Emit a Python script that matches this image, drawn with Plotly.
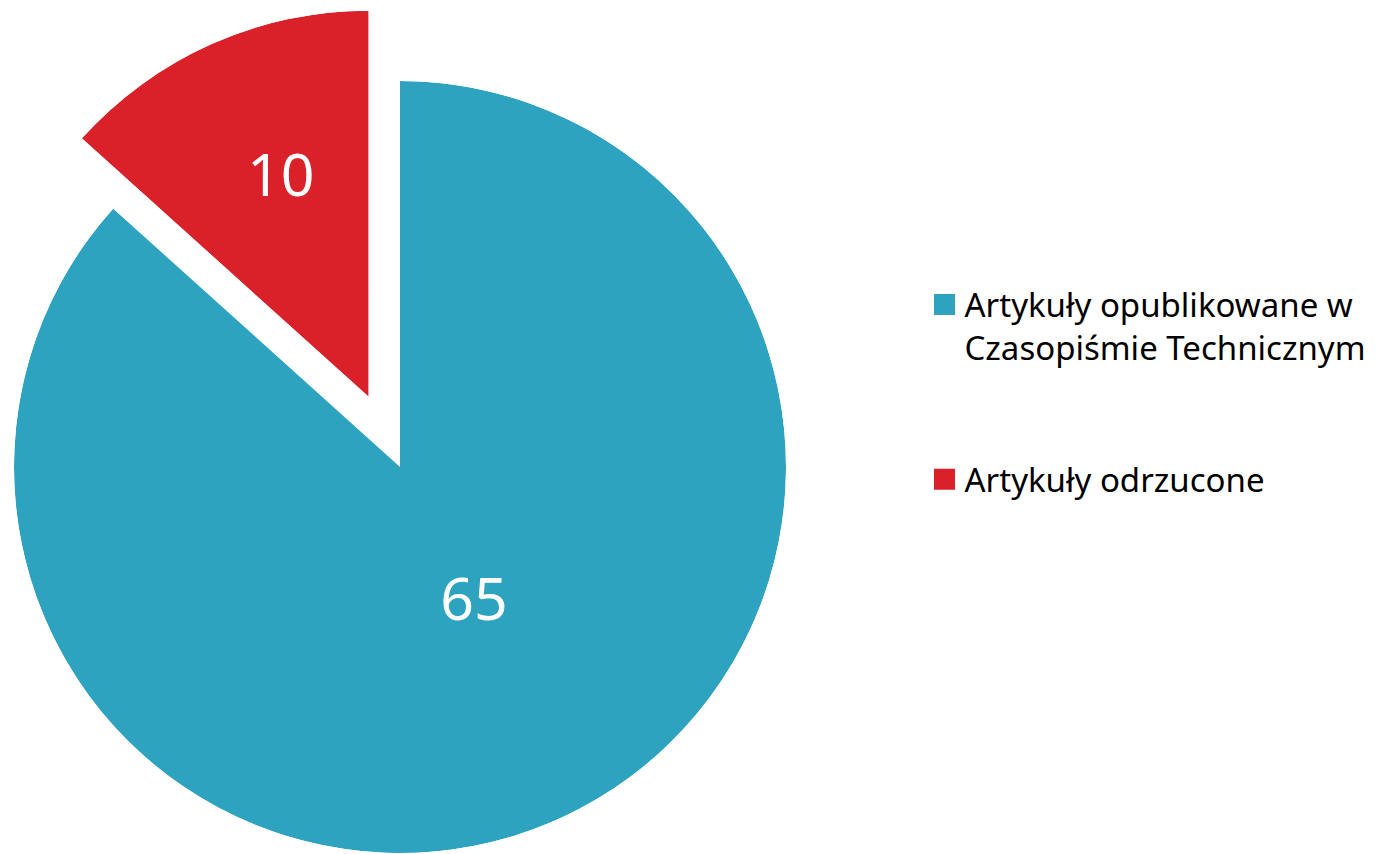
import math
import plotly.graph_objects as go

# ---------------- data ----------------
labels = ["Artykuły opublikowane w<br>Czasopiśmie Technicznym", "Artykuły odrzucone"]
values = [65, 10]
colors = ["#2EA3C0", "#DA2029"]
pulled = [False, True]

# ---------------- style / layout constants ----------------
# the page body has an 8px margin, so the figure is 16px smaller than the window
W, H = 1377, 846
CX, CY = 392, 459          # pie centre in figure px
R = 386                    # pie radius in px
PULL_PX = 77               # how far the pulled slice is moved out
LABEL_R = [0.406, 0.603]   # label distance (fraction of radius)
LABEL_POS = [0.4865, 0.5375]  # label position across the slice (fraction of its span)
FONT = "Noto Sans"

total = sum(values)
spans = [v / total * 360 for v in values]
starts = [sum(spans[:i]) for i in range(len(spans))]
mids = [s + w / 2 for s, w in zip(starts, spans)]


def sector_bbox(a0, a1):
    """bounding box (unit radius, y up) of a pie sector incl. centre, angles ccw from east"""
    pts = [(0.0, 0.0)]
    n = 64
    for k in range(n + 1):
        a = math.radians(a0 + (a1 - a0) * k / n)
        pts.append((math.cos(a), math.sin(a)))
    for c in range(0, 720, 90):
        if a0 <= c <= a1:
            pts.append((math.cos(math.radians(c)), math.sin(math.radians(c))))
    xs = [p[0] for p in pts]
    ys = [p[1] for p in pts]
    return min(xs), min(ys), max(xs), max(ys)


fig = go.Figure()
layout_polars = {}

for i, (lab, v) in enumerate(zip(labels, values)):
    name = "polar" if i == 0 else f"polar{i + 1}"
    t0, t1, tm = starts[i], starts[i] + spans[i], mids[i]
    if pulled[i]:
        cx = CX + PULL_PX * math.sin(math.radians(tm))
        cy = CY - PULL_PX * math.cos(math.radians(tm))
        a0 = 90 - t1 + 360
        a1 = 90 - t0 + 360
        while a0 >= 360:
            a0 -= 360
            a1 -= 360
        x0, y0, x1, y1 = sector_bbox(a0, a1)
        sector = [a0, a1]
    else:
        cx, cy = CX, CY
        x0, y0, x1, y1 = -1, -1, 1, 1
        sector = [0, 360]
    dom_x = [(cx + R * x0) / W, (cx + R * x1) / W]
    dom_y = [(H - (cy - R * y0)) / H, (H - (cy - R * y1)) / H]
    dom_x = [min(max(d, 0), 1) for d in dom_x]
    dom_y = [min(max(d, 0), 1) for d in dom_y]
    layout_polars[name] = dict(
        domain=dict(x=dom_x, y=dom_y),
        sector=sector,
        bgcolor="rgba(0,0,0,0)",
        hole=0,
        angularaxis=dict(visible=False, rotation=90, direction="clockwise"),
        radialaxis=dict(visible=False, range=[0, 1], autorange=False),
    )
    fig.add_trace(go.Barpolar(
        r=[1], theta=[tm], width=[spans[i]], base=[0],
        marker=dict(color=colors[i], line=dict(width=0)),
        subplot=name, showlegend=False, hoverinfo="skip",
    ))
    fig.add_trace(go.Scatterpolar(
        r=[LABEL_R[i]], theta=[t0 + LABEL_POS[i] * spans[i]],
        mode="text", text=[str(v)], textposition="middle center",
        textfont=dict(family=FONT, size=59, color="white"),
        subplot=name, showlegend=False, hoverinfo="skip", cliponaxis=False,
    ))

# legend entries
for i, lab in enumerate(labels):
    fig.add_trace(go.Scatterpolar(
        r=[None], theta=[None], mode="markers", name=lab,
        legendgroup=f"g{i}",
        marker=dict(symbol="square", size=16, color=colors[i],
                    line=dict(width=5, color=colors[i])),
        subplot="polar", hoverinfo="skip",
    ))

fig.update_layout(
    width=W, height=H,
    margin=dict(l=0, r=0, t=0, b=0),
    paper_bgcolor="white", plot_bgcolor="white",
    showlegend=True,
    hovermode=False,
    font=dict(family=FONT, color="#000000"),
    legend=dict(
        x=916.5 / W, xanchor="left",
        y=1 - 268.5 / H, yanchor="top",
        font=dict(family=FONT, size=33, color="#000000"),
        valign="top", traceorder="grouped", tracegroupgap=86,
        bgcolor="rgba(0,0,0,0)", borderwidth=0, itemsizing="trace",
    ),
    **layout_polars,
)

fig.write_html("out.html")
